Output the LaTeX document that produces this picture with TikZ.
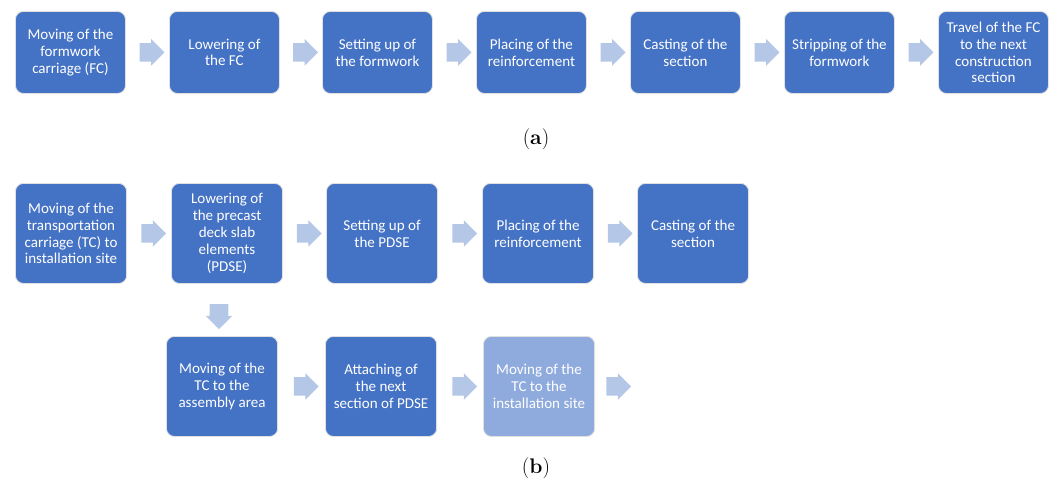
\documentclass[tikz,border=0pt]{standalone}
\usepackage{fontspec}
\newfontfamily\boxfont{Carlito}
\usetikzlibrary{shapes.arrows,calc}
\definecolor{boxblue}{HTML}{4472C4}
\definecolor{boxpale}{HTML}{8FAADC}
\definecolor{arrowblue}{HTML}{B4C7E7}
\begin{document}
\begin{tikzpicture}[x=0.025cm, y=-0.025cm,
	stepbox/.style={draw=black!12, line width=0.6pt, fill=boxblue, rounded corners=0.2cm,
		text=white, font=\boxfont\fontsize{10.7}{12}\selectfont, align=center,
		minimum width=2.75cm, minimum height=2.05cm, inner sep=0pt, anchor=north west},
	tallbox/.style={stepbox, minimum width=2.78cm, minimum height=2.5cm},
	flowarrow/.style={single arrow, fill=arrowblue, draw=none, inner xsep=0pt,
		inner ysep=0.225cm, minimum height=0.62cm, single arrow head extend=0.1cm},
	caption/.style={font=\fontsize{15}{18}\selectfont}]
\useasboundingbox (0,0) rectangle (1057,486);
% (a) formwork carriage
\foreach \x/\t [count=\i] in {15/{Moving of the\\formwork\\carriage (FC)},
	169/{Lowering of\\the FC},
	322/{Setting up of\\the formwork},
	476/{Placing of the\\reinforcement},
	630/{Casting of the\\section},
	784/{Stripping of the\\formwork},
	938/{Travel of the FC\\to the next\\construction\\section}}
	\node[stepbox] (a\i) at (\x,11) {\t};
\foreach \i in {1,...,6}
{
	\pgfmathtruncatemacro{\j}{\i+1}
	\node[flowarrow] (fa\i) at ($(a\i.east)!0.5!(a\j.west)$) {};
}
\node[caption] (capa) at (536,139) {(\textbf{a})};
% (b) precast deck slab elements
\foreach \x/\t [count=\i] in {15/{Moving of the\\transportation\\carriage (TC) to\\installation site},
	171/{Lowering of\\the precast\\deck slab\\elements\\(PDSE)},
	326/{Setting up of\\the PDSE},
	482/{Placing of the\\reinforcement},
	637/{Casting of the\\section}}
	\node[tallbox] (b\i) at (\x,183) {\t};
\foreach \i in {1,...,4}
{
	\pgfmathtruncatemacro{\j}{\i+1}
	\node[flowarrow] (fb\i) at ($(b\i.east)!0.5!(b\j.west)$) {};
}
\node[tallbox] (c1) at (166,336) {Moving of the\\TC to the\\assembly area};
\node[tallbox] (c2) at (325,336) {Attaching of\\the next\\section of PDSE};
\node[tallbox, fill=boxpale] (c3) at (483,336) {Moving of the\\TC to the\\installation site};
\node[flowarrow, rotate=-90] (fd) at (219,312) {};
\node[flowarrow] (fc1) at ($(c1.east)!0.5!(c2.west)$) {};
\node[flowarrow] (fc2) at ($(c2.east)!0.5!(c3.west)$) {};
\node[flowarrow, anchor=west] (fc3) at ($(c3.east)+(11,0)$) {};
\node[caption] (capb) at (536,468) {(\textbf{b})};
\end{tikzpicture}
\end{document}
